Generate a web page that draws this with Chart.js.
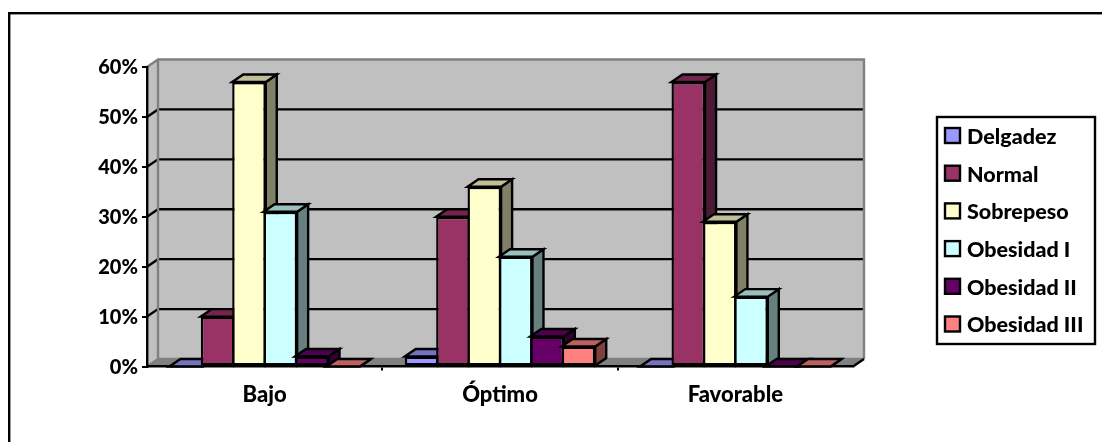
<!DOCTYPE html>
<html lang="es">
<head>
<meta charset="utf-8">
<title>Estado nutricional</title>
<style>
    html, body { margin: 0; padding: 0; background: #ffffff; }
    canvas { display: block; }
</style>
<script src="https://cdn.jsdelivr.net/npm/chart.js@4/dist/chart.umd.min.js"></script>
</head>
<body>
<canvas id="imcChart" width="1102" height="442"></canvas>
<script>
// Datos del gráfico (porcentajes)
const categorias = ['Bajo', 'Óptimo', 'Favorable'];
const delgadez = [0, 2, 0];
const normal = [10, 30, 57];
const sobrepeso = [57, 36, 29];
const obesidadI = [31, 22, 14];
const obesidadII = [2, 6, 0];
const obesidadIII = [0, 4, 0];
const nombresSeries = ['Delgadez', 'Normal', 'Sobrepeso', 'Obesidad I', 'Obesidad II', 'Obesidad III'];
const coloresSeries = ['#9999FF', '#993366', '#FFFFCC', '#CCFFFF', '#660066', '#FF8080'];
const valoresSeries = [delgadez, normal, sobrepeso, obesidadI, obesidadII, obesidadIII];

// Profundidad del efecto 3D, en píxeles
const FONDO_X = 11;
const FONDO_Y = 7.5;
const GROSOR = 2.4;

function oscurecer(hex, factor) {
    const n = parseInt(hex.slice(1), 16);
    const r = Math.round((n >> 16) * factor);
    const g = Math.round(((n >> 8) & 255) * factor);
    const b = Math.round((n & 255) * factor);
    return 'rgb(' + r + ',' + g + ',' + b + ')';
}

function poligono(ctx, puntos, relleno, trazo, grosor) {
    ctx.beginPath();
    puntos.forEach((p, i) => i ? ctx.lineTo(p[0], p[1]) : ctx.moveTo(p[0], p[1]));
    ctx.closePath();
    if (relleno) {
        ctx.fillStyle = relleno;
        ctx.fill();
    }
    if (trazo) {
        ctx.strokeStyle = trazo;
        ctx.lineWidth = grosor;
        ctx.lineJoin = 'miter';
        ctx.stroke();
    }
}

// Marco exterior, paredes, suelo y líneas de división
const paredes3d = {
    id: 'paredes3d',
    beforeDraw(chart) {
        const ctx = chart.ctx;
        const area = chart.chartArea;
        const yScale = chart.scales.y;
        const dx = FONDO_X, dy = FONDO_Y;
        ctx.save();

        ctx.fillStyle = '#000000';
        ctx.fillRect(8, 12, 1094, 2.4);
        ctx.fillRect(8, 12, 2.4, 430);

        poligono(ctx, [[area.left, area.top], [area.left + dx, area.top - dy],
            [area.left + dx, area.bottom - dy], [area.left, area.bottom]], '#C0C0C0');
        poligono(ctx, [[area.left + dx, area.top - dy], [area.right + dx, area.top - dy],
            [area.right + dx, area.bottom - dy], [area.left + dx, area.bottom - dy]], '#C0C0C0');
        poligono(ctx, [[area.left, area.bottom], [area.left + dx, area.bottom - dy],
            [area.right + dx, area.bottom - dy], [area.right, area.bottom]], '#808080');

        // Líneas de división sobre la pared de fondo y la lateral
        yScale.ticks.forEach(tick => {
            if (tick.value === 0 || tick.value === yScale.max) return;
            const y = yScale.getPixelForValue(tick.value);
            ctx.beginPath();
            ctx.moveTo(area.left, y);
            ctx.lineTo(area.left + dx, y - dy);
            ctx.lineTo(area.right + dx, y - dy);
            ctx.strokeStyle = '#000000';
            ctx.lineWidth = GROSOR;
            ctx.stroke();
        });

        // Borde gris de las paredes
        ctx.beginPath();
        ctx.moveTo(area.left, area.top);
        ctx.lineTo(area.left + dx, area.top - dy);
        ctx.lineTo(area.right + dx, area.top - dy);
        ctx.lineTo(area.right + dx, area.bottom - dy);
        ctx.moveTo(area.left + dx, area.top - dy);
        ctx.lineTo(area.left + dx, area.bottom - dy);
        ctx.lineTo(area.left, area.bottom);
        ctx.moveTo(area.left + dx, area.bottom - dy);
        ctx.lineTo(area.right + dx, area.bottom - dy);
        ctx.strokeStyle = '#808080';
        ctx.lineWidth = GROSOR;
        ctx.stroke();

        ctx.beginPath();
        ctx.moveTo(area.right, area.bottom);
        ctx.lineTo(area.right + dx, area.bottom - dy);
        ctx.strokeStyle = '#000000';
        ctx.lineWidth = GROSOR;
        ctx.stroke();
        ctx.restore();
    }
};

// Barras con cara lateral y superior, de izquierda a derecha para que se tapen bien
const barras3d = {
    id: 'barras3d',
    beforeDatasetsDraw(chart) {
        const ctx = chart.ctx;
        const dx = FONDO_X, dy = FONDO_Y;
        categorias.forEach((cat, i) => {
            valoresSeries.forEach((serie, d) => {
                const bar = chart.getDatasetMeta(d).data[i];
                const p = bar.getProps(['x', 'y', 'base', 'width']);
                const izq = p.x - p.width / 2;
                const der = p.x + p.width / 2;
                const color = coloresSeries[d];
                poligono(ctx, [[der, p.y], [der + dx, p.y - dy], [der + dx, p.base - dy], [der, p.base]],
                    oscurecer(color, 0.5), '#000000', GROSOR);
                poligono(ctx, [[izq, p.y], [izq + dx, p.y - dy], [der + dx, p.y - dy], [der, p.y]],
                    oscurecer(color, 0.75), '#000000', GROSOR);
                bar.draw(ctx, chart.chartArea);
            });
        });
        return false;
    }
};

// Leyenda en su recuadro a la derecha
const leyenda = {
    id: 'leyenda',
    afterDraw(chart) {
        const ctx = chart.ctx;
        ctx.save();
        ctx.strokeStyle = '#000000';
        ctx.lineWidth = GROSOR;
        ctx.strokeRect(937, 117, 158, 227);
        ctx.font = '900 21.5px Lato';
        ctx.textBaseline = 'middle';
        nombresSeries.forEach((nombre, i) => {
            const y = 136 + i * 37.7;
            ctx.fillStyle = coloresSeries[i];
            ctx.fillRect(945, y - 8, 15, 15);
            ctx.strokeRect(945, y - 8, 15, 15);
            ctx.fillStyle = '#000000';
            ctx.fillText(nombre, 967, y + 1);
        });
        ctx.restore();
    }
};

new Chart(document.getElementById('imcChart'), {
    type: 'bar',
    data: {
        labels: categorias,
        datasets: nombresSeries.map((nombre, i) => ({
            label: nombre,
            data: valoresSeries[i],
            backgroundColor: coloresSeries[i],
            borderColor: '#000000',
            borderWidth: GROSOR,
            borderSkipped: false,
            barPercentage: 1.07,
            categoryPercentage: 0.8
        }))
    },
    options: {
        responsive: false,
        animation: false,
        layout: { padding: { top: 67, right: 249, left: 0, bottom: 0 } },
        plugins: {
            tooltip: { enabled: false },
            legend: { display: false }
        },
        scales: {
            x: {
                afterFit(scale) { scale.height = 75.5; },
                grid: {
                    drawOnChartArea: false,
                    tickLength: 4,
                    lineWidth: 2,
                    tickColor: c => (c.index === 1 || c.index === 2) ? '#000000' : 'transparent'
                },
                border: { color: '#000000', width: GROSOR },
                ticks: {
                    color: '#000000',
                    font: { family: 'Lato', size: 22, weight: '900' },
                    padding: 11,
                    maxRotation: 0
                }
            },
            y: {
                min: 0,
                max: 60,
                afterFit(scale) { scale.width = 147; },
                grid: { drawOnChartArea: false, tickLength: 5, lineWidth: 2, tickColor: '#000000' },
                border: { color: '#000000', width: GROSOR },
                ticks: {
                    color: '#000000',
                    font: { family: 'Lato', size: 20, weight: '900' },
                    padding: 4,
                    labelOffset: 1,
                    stepSize: 10,
                    callback: value => value + '%'
                }
            }
        }
    },
    plugins: [paredes3d, barras3d, leyenda]
});
</script>
</body>
</html>
